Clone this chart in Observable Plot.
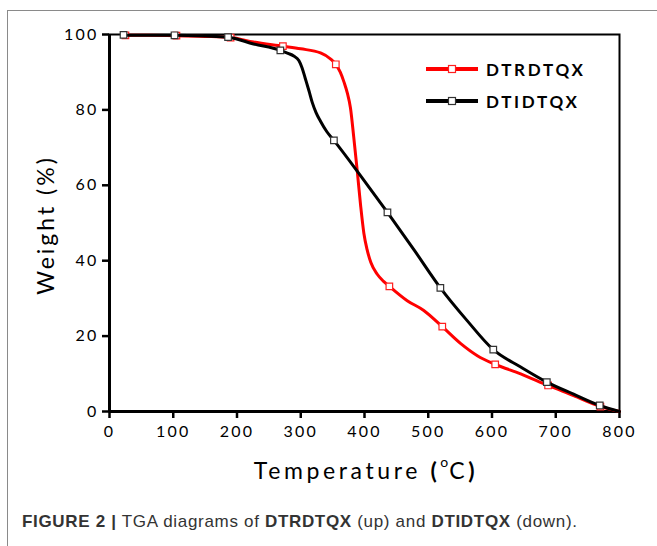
<!DOCTYPE html>
<html>
<head>
<meta charset="utf-8">
<script src="https://cdn.jsdelivr.net/npm/d3@7"></script>
<script src="https://cdn.jsdelivr.net/npm/@observablehq/plot@0.6"></script>
<style>
  body { margin: 0; background: #fff; }
  #wrap { position: relative; width: 657px; height: 546px; overflow: hidden; background: #fff; }
  #frame { position: absolute; left: 7px; top: 10px; width: 700px; height: 600px; border: 1px solid #8a8a8a; box-sizing: border-box; }
  #chart { position: absolute; left: 0; top: 0; }
  #chart svg text { letter-spacing: 2.2px; }
  #xtitle { position: absolute; left: 226px; top: 456px; width: 280px; text-align: center; font-family: Lato, sans-serif; font-size: 23px; letter-spacing: 3.6px; color: #000; white-space: nowrap; }
  #xtitle sup { font-size: 14px; position: relative; top: -3px; letter-spacing: 1px; }
  #ytitle { position: absolute; left: 45px; top: 225px; transform: translate(-50%, -50%) rotate(-90deg); font-family: Lato, sans-serif; font-size: 23px; letter-spacing: 3px; color: #000; white-space: nowrap; }
  #legend { position: absolute; left: 426px; top: 53px; font-family: Lato, sans-serif; font-weight: bold; font-size: 17px; letter-spacing: 2.7px; color: #000; }
  #legend .row { display: flex; align-items: center; height: 32px; }
  #legend svg { margin-right: 8px; }
  #caption { position: absolute; left: 22px; top: 512px; font-family: "Liberation Sans", Arial, sans-serif; font-size: 17px; color: #333; white-space: nowrap; letter-spacing: 0.68px; }
</style>
</head>
<body>
<div id="wrap">
  <div id="frame"></div>
  <div id="chart"></div>
  <div id="ytitle">Weight (%)</div>
  <div id="xtitle">Temperature <b>(</b><sup>o</sup>C<b>)</b></div>
  <div id="legend"></div>
  <div id="caption"><b>FIGURE 2 |</b> TGA diagrams of <b>DTRDTQX</b> (up) and <b>DTIDTQX</b> (down).</div>
</div>
<script>
// ---- data ----
const seriesNames = ["DTRDTQX", "DTIDTQX"];
const seriesColors = ["#ff0000", "#000000"];
const markerStrokes = ["#ff2020", "#333333"];

const redT = [25, 60, 105, 150, 190, 226, 272, 300, 331, 347, 355, 362, 368, 373, 378, 383, 388.5, 394, 399, 404, 410, 420, 430, 439, 467, 493, 522, 551, 577, 605, 645, 688, 728, 770, 800];
const redW = [99.8, 99.8, 99.7, 99.5, 99.2, 98.0, 96.9, 96.2, 95.1, 93.5, 92.1, 90.0, 87.3, 84.5, 80.5, 73.0, 64.0, 54.5, 47.3, 43.0, 39.5, 36.4, 34.5, 33.2, 29.4, 26.8, 22.5, 18.0, 14.8, 12.5, 10.0, 6.9, 4.2, 1.3, 0];

const blackT = [22, 60, 102, 150, 186, 226, 268, 280, 289, 297, 302, 307, 313, 318, 324, 331, 341, 352, 394, 436, 478, 519, 561, 602, 645, 686, 728, 769, 800];
const blackW = [99.8, 99.8, 99.8, 99.6, 99.3, 97.5, 95.8, 95.0, 94.3, 93.1, 91.2, 88.4, 85.0, 82.0, 79.3, 77.0, 74.2, 71.9, 62.5, 52.8, 42.8, 32.8, 24.1, 16.4, 11.8, 7.8, 4.6, 1.6, 0];

const redMarkT = [25, 105, 190, 272, 355, 439, 522, 605, 688, 770];
const redMarkW = [99.8, 99.7, 99.2, 96.9, 92.1, 33.2, 22.5, 12.5, 6.9, 1.3];
const blackMarkT = [22, 102, 186, 268, 352, 436, 519, 602, 686, 769];
const blackMarkW = [99.9, 99.8, 99.3, 95.8, 71.9, 52.8, 32.8, 16.4, 7.8, 1.6];

const xTicks = [0, 100, 200, 300, 400, 500, 600, 700, 800];
const yTicks = [0, 20, 40, 60, 80, 100];

// ---- tables ----
const red = redT.map((t, i) => ({t, w: redW[i]}));
const black = blackT.map((t, i) => ({t, w: blackW[i]}));
const redMarks = redMarkT.map((t, i) => ({t, w: redMarkW[i]}));
const blackMarks = blackMarkT.map((t, i) => ({t, w: blackMarkW[i]}));

const chart = Plot.plot({
  width: 657,
  height: 470,
  marginLeft: 109,
  marginRight: 38,
  marginTop: 34,
  marginBottom: 59,
  style: {fontFamily: "Lato, sans-serif", fontSize: "16px", color: "#000", background: "transparent", overflow: "visible"},
  x: {domain: [0, 800], label: null},
  y: {domain: [0, 100], label: null},
  marks: [
    Plot.axisX({ticks: xTicks, tickSize: 7, tickPadding: 7, fontSize: 16, label: null, strokeWidth: 2.5}),
    Plot.axisY({ticks: yTicks, tickSize: 7, tickPadding: 4, fontSize: 16, label: null, strokeWidth: 2.5}),
    Plot.frame({stroke: "#000", strokeWidth: 2}),
    Plot.ruleX([0], {stroke: "#000", strokeWidth: 3}),
    Plot.ruleY([0], {stroke: "#000", strokeWidth: 3}),
    Plot.line(red, {x: "t", y: "w", stroke: seriesColors[0], strokeWidth: 3, curve: "monotone-x"}),
    Plot.dot(redMarks, {x: "t", y: "w", symbol: "square", r: 3.7, fill: "white", stroke: markerStrokes[0], strokeWidth: 1.2}),
    Plot.line(black, {x: "t", y: "w", stroke: seriesColors[1], strokeWidth: 3, curve: "monotone-x"}),
    Plot.dot(blackMarks, {x: "t", y: "w", symbol: "square", r: 3.7, fill: "white", stroke: markerStrokes[1], strokeWidth: 1.2})
  ]
});
document.getElementById("chart").appendChild(chart);

// ---- legend ----
const legend = document.getElementById("legend");
seriesNames.forEach((name, i) => {
  const row = document.createElement("div");
  row.className = "row";
  row.innerHTML = `<svg width="52" height="12"><line x1="0" x2="52" y1="6" y2="6" stroke="${seriesColors[i]}" stroke-width="4"/><rect x="22.5" y="2.5" width="7" height="7" fill="white" stroke="${markerStrokes[i]}" stroke-width="1.2"/></svg><span>${name}</span>`;
  legend.appendChild(row);
});
</script>
</body>
</html>
